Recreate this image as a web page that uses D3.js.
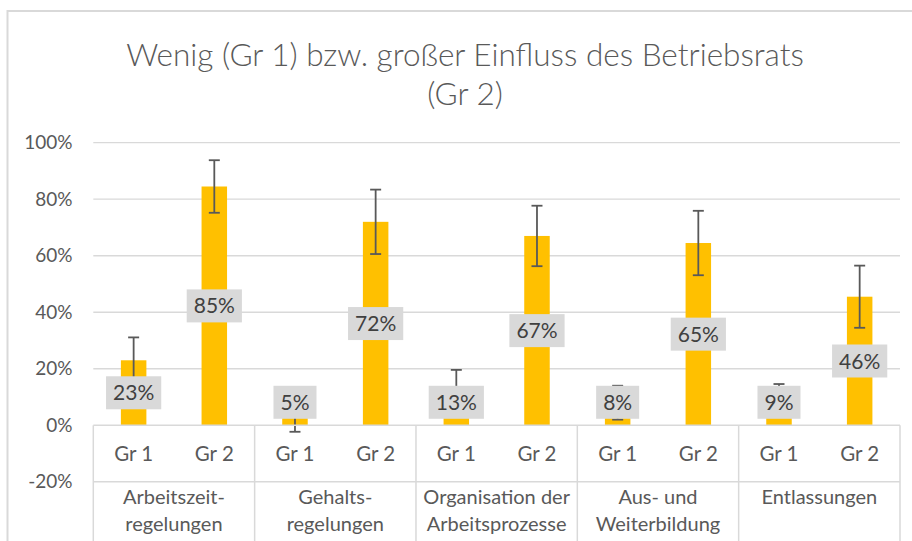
<!DOCTYPE html>
<html>
<head>
<meta charset="utf-8">
<script src="https://cdn.jsdelivr.net/npm/d3@7/dist/d3.min.js"></script>
<style>
  html, body { margin: 0; padding: 0; background: #fff; }
  svg { display: block; font-family: Lato, "Noto Sans", sans-serif; }
</style>
</head>
<body>
<div id="chart"></div>
<script>
const title = ['Wenig (Gr 1) bzw. großer Einfluss des Betriebsrats', '(Gr 2)'];
const categories = [
  ['Arbeitszeit-', 'regelungen'],
  ['Gehalts-', 'regelungen'],
  ['Organisation der', 'Arbeitsprozesse'],
  ['Aus- und', 'Weiterbildung'],
  ['Entlassungen']
];
const groups = ['Gr 1', 'Gr 2'];
const gr1Values = [0.23, 0.05, 0.13, 0.08, 0.09];
const gr2Values = [0.845, 0.72, 0.67, 0.645, 0.455];
const gr1Errors = [0.081, 0.073, 0.066, 0.06, 0.056];
const gr2Errors = [0.093, 0.114, 0.107, 0.114, 0.11];
const yTicks = [-0.2, 0, 0.2, 0.4, 0.6, 0.8, 1.0];

const width = 912, height = 541;
const plot = { left: 93.3, right: 900, top: 142.7, bottom: 481.8 };

const rows = [];
categories.forEach((c, i) => {
  rows.push({ cat: i, group: groups[0], value: gr1Values[i], err: gr1Errors[i] });
  rows.push({ cat: i, group: groups[1], value: gr2Values[i], err: gr2Errors[i] });
});

const svg = d3.select('#chart').append('svg')
  .attr('width', width)
  .attr('height', height);

// chart area border (left + top visible)
svg.append('path')
  .attr('d', `M7.5,${height}V11H${width}`)
  .attr('fill', 'none')
  .attr('stroke', '#d9d9d9')
  .attr('stroke-width', 2);

// title
svg.append('text')
  .attr('text-anchor', 'middle')
  .attr('fill', '#595959')
  .attr('font-size', '31.5px')
  .attr('font-weight', 300)
  .selectAll('tspan')
  .data(title)
  .join('tspan')
  .attr('x', 465)
  .attr('y', (d, i) => 66 + i * 39)
  .text(d => d);

const y = d3.scaleLinear().domain([-0.2, 1.0]).range([plot.bottom, plot.top]);
const x0 = d3.scaleBand().domain(d3.range(categories.length)).range([plot.left, plot.right]);
const x1 = d3.scaleBand().domain(groups).range([0, x0.bandwidth()]);
const barW = 25.5;
const cx = d => x0(d.cat) + x1(d.group) + x1.bandwidth() / 2;

// gridlines
svg.append('g')
  .selectAll('line')
  .data(yTicks.filter(t => t > 0))
  .join('line')
  .attr('x1', plot.left).attr('x2', plot.right)
  .attr('y1', d => y(d)).attr('y2', d => y(d))
  .attr('stroke', '#d9d9d9')
  .attr('stroke-width', 1.3);

// y tick labels
svg.append('g')
  .selectAll('text')
  .data(yTicks)
  .join('text')
  .attr('x', 72.5)
  .attr('y', d => y(d))
  .attr('dy', '0.35em')
  .attr('text-anchor', 'end')
  .attr('fill', '#595959')
  .attr('font-size', '19px')
  .text(d => d3.format('.0%')(d).replace('−', '-'));

// bars
svg.append('g')
  .selectAll('rect')
  .data(rows)
  .join('rect')
  .attr('x', d => cx(d) - barW / 2)
  .attr('width', barW)
  .attr('y', d => y(d.value))
  .attr('height', d => y(0) - y(d.value))
  .attr('fill', '#ffc000');

// error bars
const err = svg.append('g')
  .attr('stroke', '#595959')
  .attr('stroke-width', 1.8)
  .selectAll('g')
  .data(rows)
  .join('g');
err.append('line')
  .attr('x1', cx).attr('x2', cx)
  .attr('y1', d => y(d.value + d.err))
  .attr('y2', d => y(d.value - d.err));
err.selectAll('.cap')
  .data(d => [d.value + d.err, d.value - d.err].map(v => ({ d, v })))
  .join('line')
  .attr('class', 'cap')
  .attr('x1', e => cx(e.d) - 5.5).attr('x2', e => cx(e.d) + 5.5)
  .attr('y1', e => y(e.v)).attr('y2', e => y(e.v));

// data labels
const lab = svg.append('g')
  .selectAll('g')
  .data(rows)
  .join('g')
  .attr('transform', d => `translate(${cx(d)},${Math.min(y(d.value / 2), y(0) - 23)})`);
lab.append('text')
  .attr('text-anchor', 'middle')
  .attr('dy', '0.36em')
  .attr('fill', '#404040')
  .attr('font-size', '21px')
  .text(d => Math.round(d.value * 100 + 1e-9) + '%');
lab.insert('rect', 'text')
  .each(function () {
    const w = this.parentNode.querySelector('text').getComputedTextLength() + 14;
    d3.select(this).attr('x', -w / 2).attr('width', w);
  })
  .attr('y', -16.5)
  .attr('height', 33)
  .attr('fill', '#d9d9d9');

// category axis table
const axis = svg.append('g')
  .attr('stroke', '#d9d9d9')
  .attr('stroke-width', 1.5);
axis.append('line')
  .attr('x1', plot.left).attr('x2', plot.right)
  .attr('y1', y(0)).attr('y2', y(0));
axis.append('line')
  .attr('x1', plot.left).attr('x2', plot.right)
  .attr('y1', y(-0.2)).attr('y2', y(-0.2));
axis.selectAll('.sep')
  .data(d3.range(categories.length + 1))
  .join('line')
  .attr('class', 'sep')
  .attr('x1', i => i < categories.length ? x0(i) : plot.right)
  .attr('x2', i => i < categories.length ? x0(i) : plot.right)
  .attr('y1', y(0)).attr('y2', height);

svg.append('g')
  .selectAll('text')
  .data(rows)
  .join('text')
  .attr('x', cx)
  .attr('y', (y(0) + y(-0.2)) / 2)
  .attr('dy', '0.35em')
  .attr('text-anchor', 'middle')
  .attr('fill', '#595959')
  .attr('font-size', '20.5px')
  .text(d => d.group);

svg.append('g')
  .selectAll('text')
  .data(categories)
  .join('text')
  .attr('text-anchor', 'middle')
  .attr('fill', '#595959')
  .attr('font-size', '20px')
  .selectAll('tspan')
  .data((d, i) => d.map(t => ({ t, i })))
  .join('tspan')
  .attr('x', e => x0(e.i) + x0.bandwidth() / 2)
  .attr('y', (e, j) => 504 + j * 27)
  .text(e => e.t);
</script>
</body>
</html>
